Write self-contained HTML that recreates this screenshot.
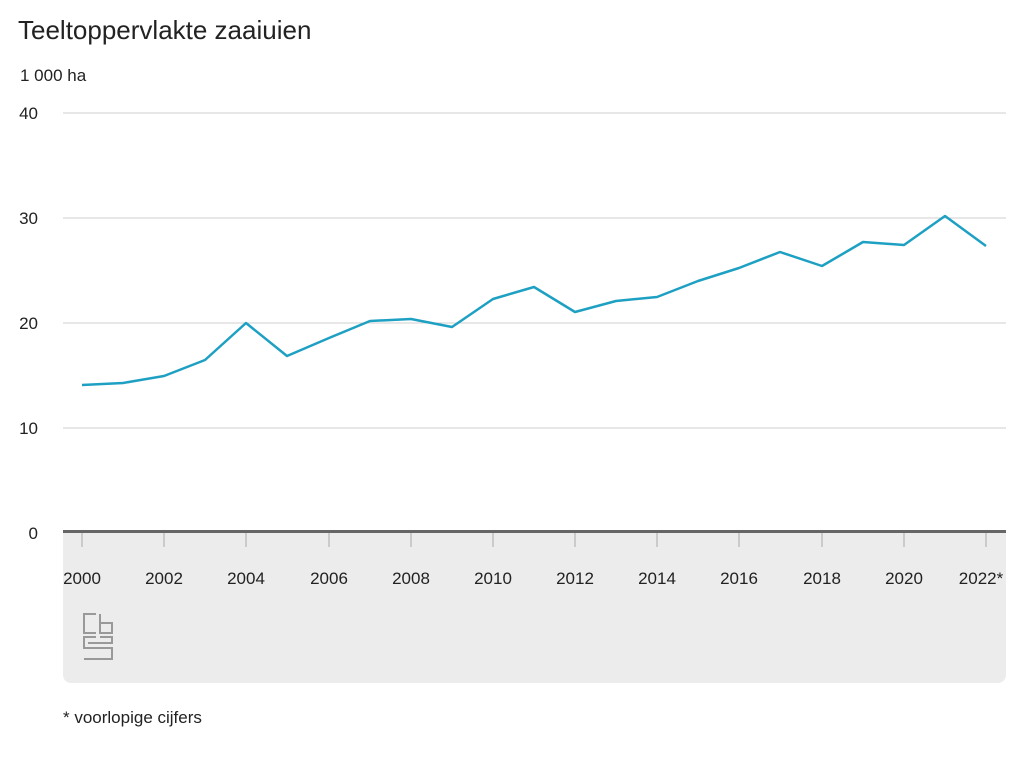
<!DOCTYPE html>
<html><head><meta charset="utf-8"><style>
body{margin:0;background:#fff;font-family:"Liberation Sans",sans-serif;}
</style></head><body>
<svg width="1024" height="768" xmlns="http://www.w3.org/2000/svg" font-family="Liberation Sans, sans-serif">
<rect width="1024" height="768" fill="#fff"/>
<text x="18" y="39" font-size="26" fill="#222">Teeltoppervlakte zaaiuien</text>
<text x="20" y="81" font-size="17" fill="#222">1 000 ha</text>
<path d="M63 532 H1006 V675 a8 8 0 0 1 -8 8 H71 a8 8 0 0 1 -8 -8 Z" fill="#ececec"/>
<g stroke="#cfcfcf" stroke-width="1">
<line x1="63" y1="113" x2="1006" y2="113"/>
<line x1="63" y1="218" x2="1006" y2="218"/>
<line x1="63" y1="323" x2="1006" y2="323"/>
<line x1="63" y1="428" x2="1006" y2="428"/>
</g>
<g font-size="17" fill="#222" text-anchor="end">
<text x="38" y="119">40</text>
<text x="38" y="224">30</text>
<text x="38" y="329">20</text>
<text x="38" y="434">10</text>
<text x="38" y="539">0</text>
</g>
<line x1="63" y1="531.5" x2="1006" y2="531.5" stroke="#666" stroke-width="3"/>
<g stroke="#aaa" stroke-width="1">
<line x1="82" y1="533" x2="82" y2="547"/><line x1="164" y1="533" x2="164" y2="547"/><line x1="246" y1="533" x2="246" y2="547"/><line x1="329" y1="533" x2="329" y2="547"/><line x1="411" y1="533" x2="411" y2="547"/><line x1="493" y1="533" x2="493" y2="547"/><line x1="575" y1="533" x2="575" y2="547"/><line x1="657" y1="533" x2="657" y2="547"/><line x1="739" y1="533" x2="739" y2="547"/><line x1="822" y1="533" x2="822" y2="547"/><line x1="904" y1="533" x2="904" y2="547"/><line x1="986" y1="533" x2="986" y2="547"/>
</g>
<g font-size="17" fill="#222" text-anchor="middle">
<text x="82" y="584">2000</text><text x="164" y="584">2002</text><text x="246" y="584">2004</text><text x="329" y="584">2006</text><text x="411" y="584">2008</text><text x="493" y="584">2010</text><text x="575" y="584">2012</text><text x="657" y="584">2014</text><text x="739" y="584">2016</text><text x="822" y="584">2018</text><text x="904" y="584">2020</text><text x="981" y="584">2022*</text>
</g>
<g fill="none" stroke="#999" stroke-width="2">
<path d="M84 623 V614 H96 M84 623 V633 H96"/>
<rect x="100" y="623" width="12" height="10"/>
<path d="M100 623 V614"/>
<path d="M96 637 H84 V648 H112 V659 H84 M88 643 H112 V637 H100"/>
</g>
<polyline fill="none" stroke="#1ea0c3" stroke-width="2.5" stroke-linejoin="round" points="82,385 123,383 164,376 205,360 246,323 287,356 329,338 370,321 411,319 452,327 493,299 534,287 575,312 616,301 657,297 698,281 739,268 780,252 822,266 863,242 904,245 945,216 986,246"/>
<text x="63" y="723" font-size="17" fill="#222">* voorlopige cijfers</text>
</svg>
</body></html>
